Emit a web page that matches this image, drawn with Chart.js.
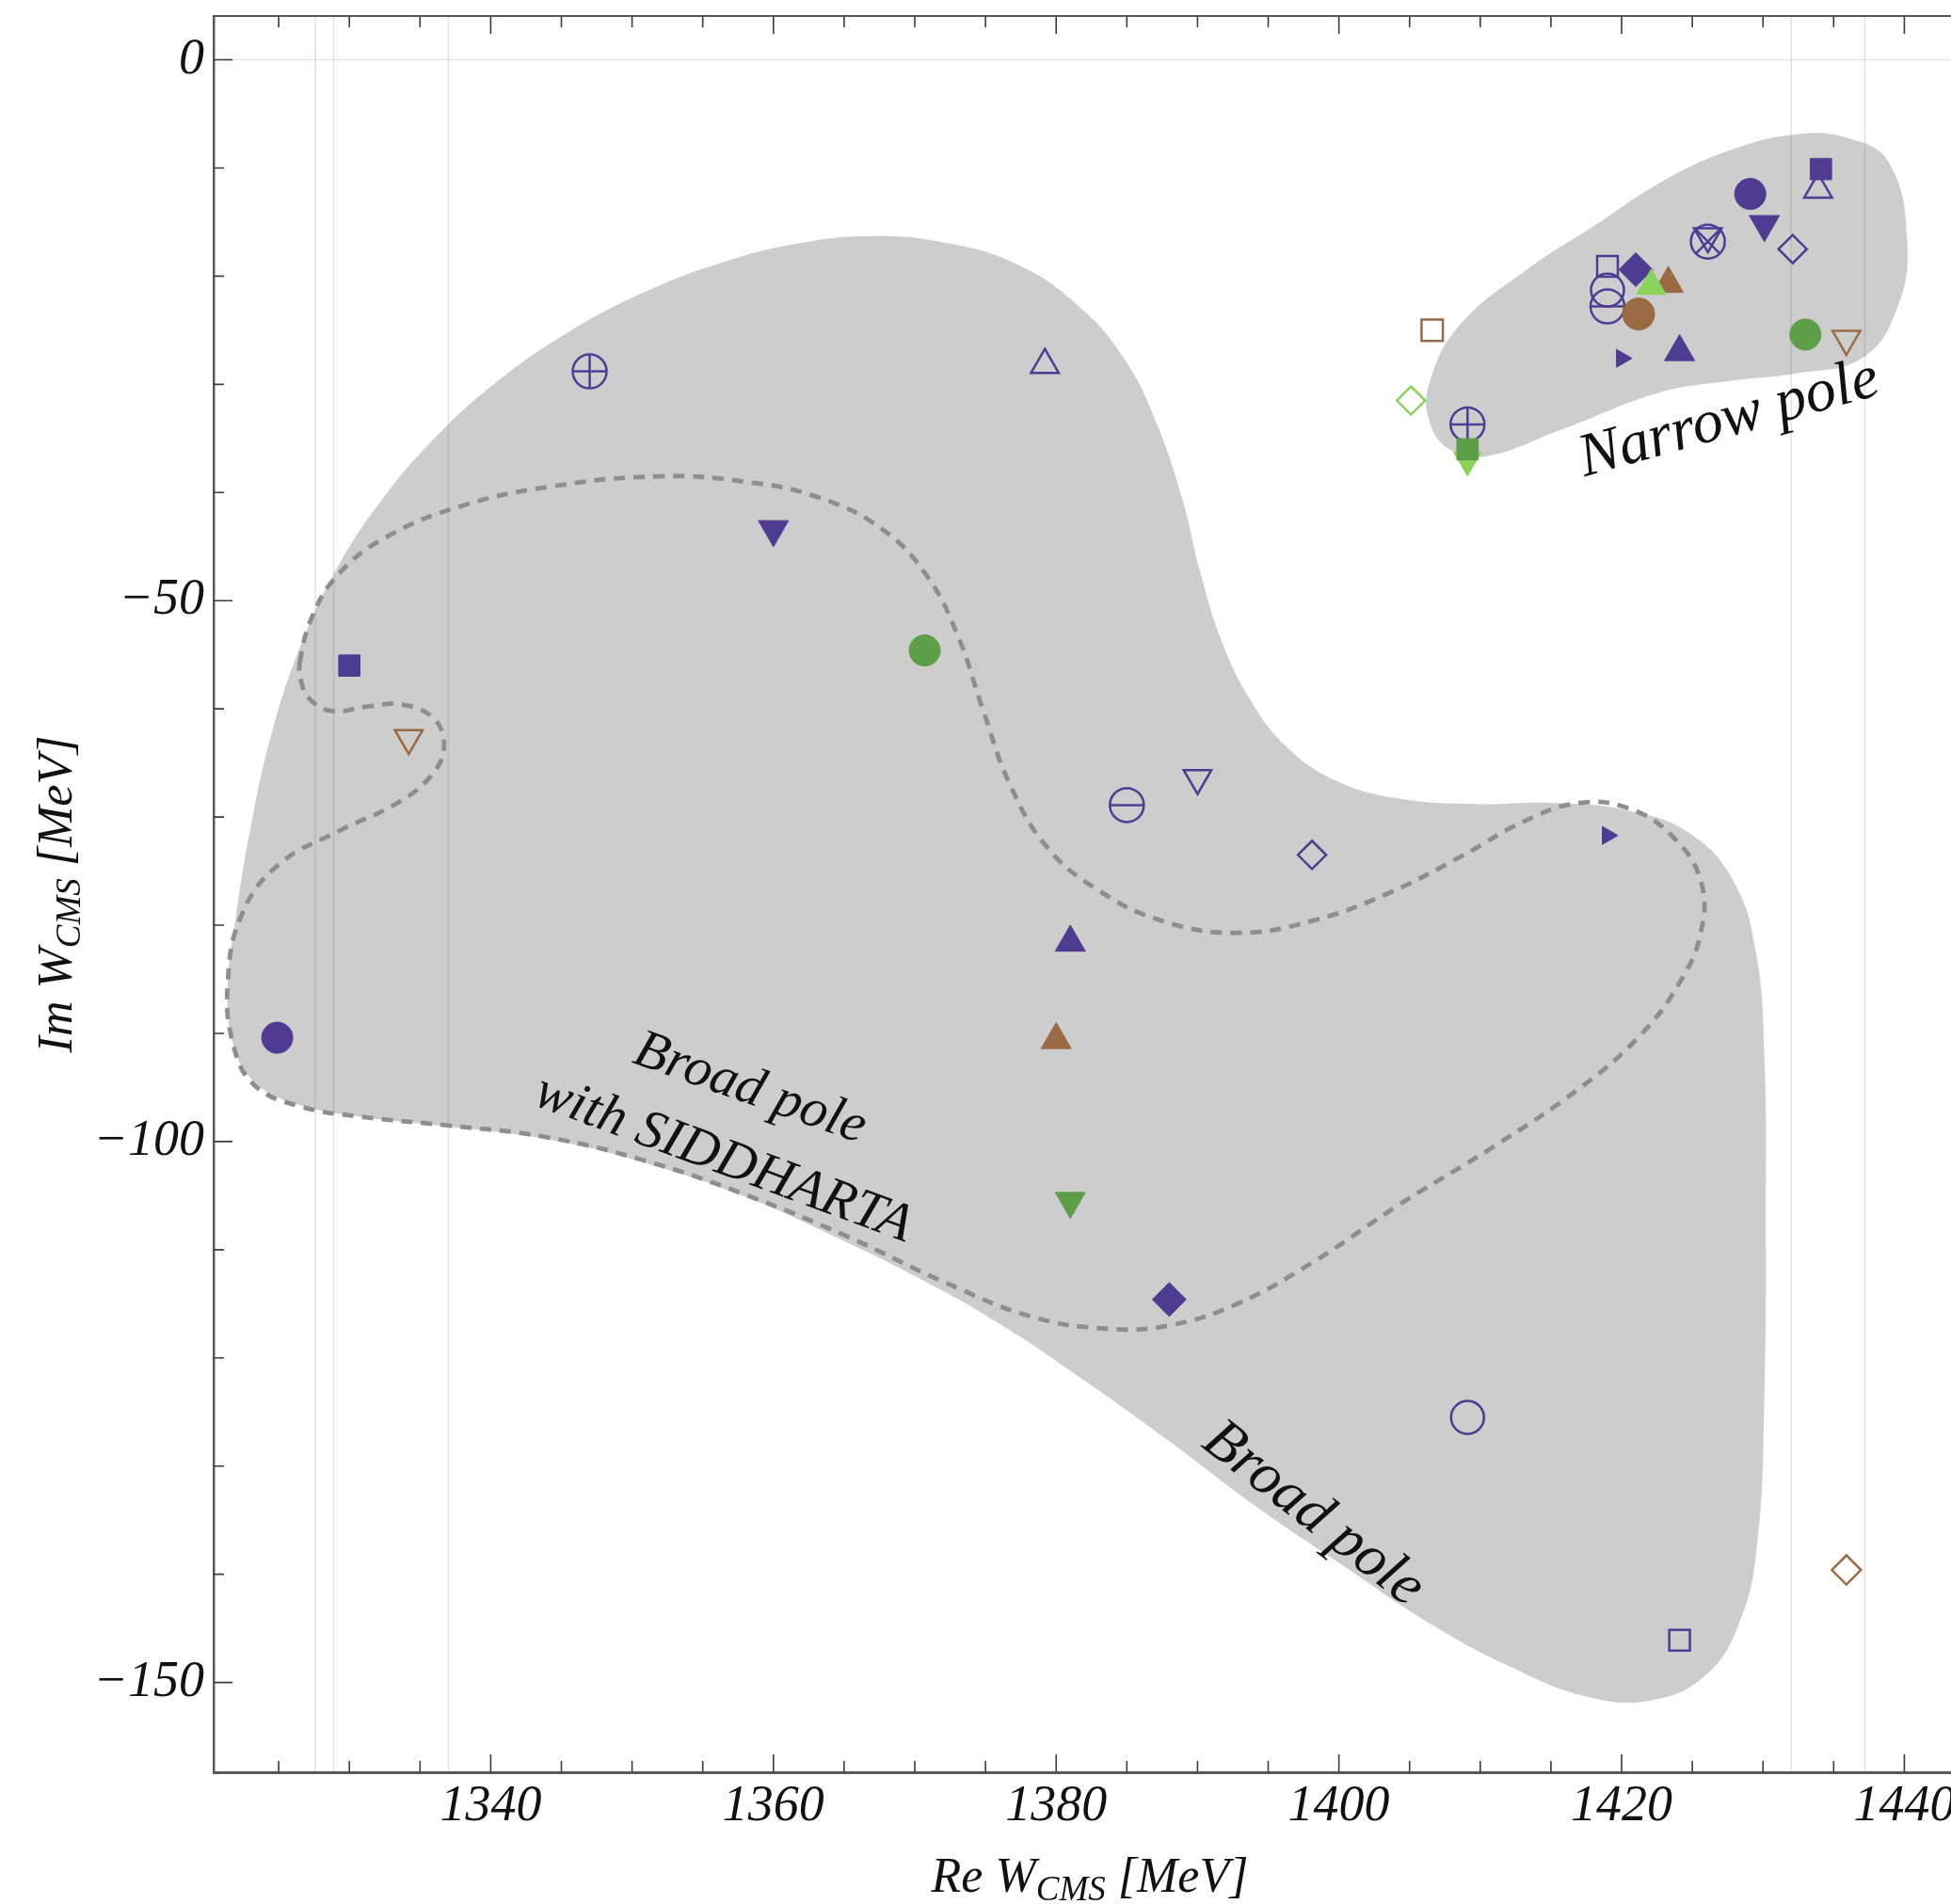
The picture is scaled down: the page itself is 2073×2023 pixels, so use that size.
<!DOCTYPE html>
<html><head><meta charset="utf-8">
<script src="https://cdn.jsdelivr.net/npm/chart.js@4.4.1/dist/chart.umd.min.js"></script>
<style>html,body{margin:0;padding:0;background:#fff;}canvas{display:block;}</style>
</head><body>
<canvas id="c" width="2073" height="2023"></canvas>
<script>
// ---------- axis limits & ticks ----------
const xLimits = [1320.4, 1443.3];
const yLimits = [-158.3, 4.05];
const xTickValues = [1325,1330,1335,1340,1345,1350,1355,1360,1365,1370,1375,1380,1385,1390,1395,1400,1405,1410,1415,1420,1425,1430,1435,1440];
const xMajorTicks = [1340,1360,1380,1400,1420,1440];
const yTickValues = [-150,-140,-130,-120,-110,-100,-90,-80,-70,-60,-50,-40,-30,-20,-10,0];
const yMajorTicks = [0,-50,-100,-150];
const thresholds = [1327.6, 1328.9, 1337.0, 1432.0, 1437.2];

// ---------- pole positions [Re W, Im W] (MeV) ----------
const purpleDisc        = [[1324.9,-90.4],[1429.1,-12.4]];
const purpleSquare      = [[1330.0,-56.0],[1434.1,-10.1]];
const purpleTriDown     = [[1360.0,-43.4],[1430.1,-15.2]];
const purpleTriUp       = [[1381.0,-81.6],[1424.1,-27.0]];
const purpleDiamond     = [[1388.0,-114.6],[1421.0,-19.4]];
const purpleOpenTriUp   = [[1379.2,-28.2],[1433.9,-12.0]];
const purpleOpenTriDown = [[1390.0,-66.4],[1426.1,-16.3]];
const purpleOpenDiamond = [[1398.1,-73.5],[1432.1,-17.5]];
const purpleSmallTri    = [[1419.0,-71.7],[1420.0,-27.6]];
const purpleCirclePlus  = [[1347.0,-28.8],[1409.1,-33.7]];
const purpleCircleBar   = [[1385.0,-68.9],[1419.0,-22.8]];
const purpleOpenCircle  = [[1409.1,-125.5],[1419.0,-21.3]];
const purpleOpenSquare  = [[1424.1,-146.1],[1419.0,-19.1]];
const purpleCircleCross = [[1426.1,-16.8]];
const greenDisc         = [[1370.7,-54.6],[1433.0,-25.4]];
const greenTriDown      = [[1381.0,-105.5]];
const greenSquare       = [[1409.1,-36.0]];
const lightGreenTriUp   = [[1422.1,-20.9]];
const lightGreenTriDown = [[1409.1,-37.0]];
const lightGreenDiamond = [[1405.1,-31.5]];
const brownTriUp        = [[1380.0,-90.6],[1423.3,-20.7]];
const brownOpenTriDown  = [[1334.2,-62.7],[1435.9,-25.8]];
const brownOpenDiamond  = [[1435.9,-139.6]];
const brownOpenSquare   = [[1406.6,-25.0]];
const brownDisc         = [[1421.2,-23.5]];

// ---------- region outlines [Re W, Im W] ----------
const broadPoleOutline = [[1366.8,-16.3],[1372.1,-16.9],[1377.4,-19.0],[1381.8,-23.0],[1384.9,-27.8],[1387.1,-33.6],[1388.9,-40.5],[1390.2,-47.4],[1391.7,-53.7],[1393.7,-59.1],[1396.3,-63.5],[1399.9,-66.7],[1404.3,-68.3],[1409.5,-68.8],[1415.3,-68.7],[1420.5,-69.4],[1424.8,-71.5],[1427.9,-75.9],[1429.5,-82.5],[1430.1,-92.2],[1430.2,-107.2],[1430.1,-123.3],[1429.6,-137.1],[1428.3,-144.6],[1425.8,-149.5],[1421.9,-151.7],[1417.5,-151.3],[1412.2,-148.6],[1406.5,-144.6],[1400.3,-139.2],[1394.1,-133.7],[1388.0,-127.7],[1381.8,-121.9],[1375.7,-116.6],[1370.4,-112.7],[1364.2,-108.7],[1358.0,-105.1],[1351.0,-102.0],[1344.0,-99.8],[1336.9,-98.6],[1330.8,-97.7],[1326.2,-96.5],[1323.3,-94.5],[1321.8,-91.1],[1321.4,-85.9],[1322.0,-79.0],[1323.1,-70.4],[1324.6,-61.8],[1326.6,-54.0],[1329.0,-47.3],[1332.0,-41.2],[1335.8,-35.3],[1340.4,-29.8],[1345.7,-25.0],[1351.0,-21.4],[1356.2,-18.8],[1361.6,-17.0]];
const siddhartaOutline = [[1326.5,-55.7],[1327.4,-51.4],[1329.2,-47.6],[1332.5,-44.2],[1337.8,-41.3],[1344.0,-39.5],[1351.9,-38.5],[1358.0,-39.0],[1363.3,-40.5],[1367.7,-43.4],[1370.8,-47.6],[1373.0,-53.1],[1374.8,-60.0],[1376.7,-66.9],[1379.3,-72.7],[1382.9,-76.7],[1387.5,-79.6],[1392.8,-80.7],[1398.1,-79.6],[1403.4,-77.1],[1408.7,-73.6],[1413.1,-70.4],[1417.0,-68.7],[1420.5,-69.2],[1423.6,-71.8],[1425.6,-75.9],[1425.6,-80.7],[1424.1,-85.3],[1421.3,-90.2],[1417.0,-95.1],[1410.9,-100.5],[1404.3,-105.8],[1398.1,-111.2],[1392.8,-115.0],[1388.0,-117.0],[1383.6,-117.3],[1378.3,-116.2],[1372.1,-113.0],[1365.1,-108.7],[1358.0,-104.9],[1351.0,-101.8],[1344.0,-99.6],[1336.9,-98.5],[1330.8,-97.7],[1326.4,-96.7],[1323.3,-94.8],[1321.8,-91.1],[1321.4,-85.3],[1322.4,-79.0],[1325.0,-74.4],[1329.4,-71.2],[1333.4,-68.7],[1335.9,-66.0],[1336.7,-63.3],[1335.9,-60.8],[1333.7,-59.6],[1331.2,-59.8],[1328.8,-60.2],[1327.2,-59.1],[1326.6,-57.5]];
const narrowPoleOutline = [[1410.2,-36.7],[1415.7,-34.2],[1422.8,-30.7],[1427.6,-29.7],[1432.3,-29.0],[1437.1,-27.5],[1439.5,-22.9],[1440.2,-16.8],[1438.9,-9.5],[1435.9,-7.2],[1432.3,-6.9],[1427.6,-8.4],[1422.8,-11.3],[1418.0,-15.4],[1413.3,-19.4],[1408.5,-24.6],[1406.4,-29.9],[1406.4,-33.4],[1407.8,-36.0]];

// ---------- text labels ----------
const noteTexts  = ['Narrow pole','Broad pole','with SIDDHARTA','Broad pole'];
const noteRe     = [1427.9, 1358.0, 1356.1, 1397.5];
const noteIm     = [-34.7, -96.4, -102.9, -135.6];
const noteAngles = [-15.5, 19.5, 20.3, 38];
const noteSizes  = [65, 58, 58, 63];
const xTitleParts = ['Re W','CMS',' [MeV]'];
const yTitleParts = ['Im W','CMS',' [MeV]'];

// ---------- styling ----------
const PURPLE='#4F3C92', GREEN='#5E9E48', LGREEN='#8AD35B', BROWN='#9A6A42';
const SERIF='"Liberation Serif","Times New Roman",serif';
const toPts = a => a.map(([x,y]) => ({x, y}));

function markerDs(arr, style, color, filled, r, rot, order){
  return { data: toPts(arr), showLine:false, pointStyle:style, pointRadius:r, pointHoverRadius:r,
    pointRotation:rot||0, pointBackgroundColor: filled ? color : 'rgba(0,0,0,0)',
    pointBorderColor:color, pointBorderWidth: filled ? 1 : 2.5, order:order };
}
function outlineDs(arr, opts){
  return Object.assign({ data: toPts(arr), showLine:true, closed:true, tension:0.42,
    pointRadius:0, pointHoverRadius:0, pointHitRadius:0 }, opts);
}

const datasets = [
  outlineDs(broadPoleOutline, {fill:'shape', backgroundColor:'#CDCDCD', borderWidth:0, borderColor:'rgba(0,0,0,0)', order:100}),
  outlineDs(narrowPoleOutline, {fill:'shape', backgroundColor:'#CDCDCD', borderWidth:0, borderColor:'rgba(0,0,0,0)', order:99}),
  ...thresholds.map(t => ({ data:[{x:t,y:yLimits[1]+5},{x:t,y:yLimits[0]-5}], showLine:true, fill:false,
      borderColor:'rgba(120,100,130,0.2)', borderWidth:1.5, pointRadius:0, order:90 })),
  { data:[{x:xLimits[0]-5,y:0},{x:xLimits[1]+5,y:0}], showLine:true, fill:false,
      borderColor:'rgba(120,100,130,0.2)', borderWidth:1.5, pointRadius:0, order:90 },
  outlineDs(siddhartaOutline, {fill:false, borderColor:'#8E8E8E', borderWidth:4.8, borderDash:[12,9], order:80}),

  markerDs(purpleOpenSquare, 'rect', PURPLE, false, 15.5, 0, 30),
  markerDs(purpleOpenCircle, 'circle', PURPLE, false, 17.5, 0, 30),
  markerDs(purpleCircleBar, 'circle', PURPLE, false, 18, 0, 30),
  markerDs(purpleCircleBar, 'line', PURPLE, false, 18, 0, 30),
  markerDs(purpleCirclePlus, 'circle', PURPLE, false, 18, 0, 30),
  markerDs(purpleCirclePlus, 'cross', PURPLE, false, 18, 0, 30),
  markerDs(purpleCircleCross, 'circle', PURPLE, false, 18, 0, 30),
  markerDs(purpleCircleCross, 'crossRot', PURPLE, false, 18, 0, 30),
  markerDs(purpleOpenTriDown, 'triangle', PURPLE, false, 17, 180, 30),
  markerDs(purpleOpenTriUp, 'triangle', PURPLE, false, 17, 0, 30),
  markerDs(purpleOpenDiamond, 'rectRot', PURPLE, false, 15, 0, 30),
  markerDs(purpleDiamond, 'rectRot', PURPLE, true, 18, 0, 25),
  markerDs(purpleDisc, 'circle', PURPLE, true, 16.5, 0, 25),
  markerDs(purpleSquare, 'rect', PURPLE, true, 16, 0, 25),
  markerDs(purpleTriDown, 'triangle', PURPLE, true, 18.5, 180, 25),
  markerDs(purpleTriUp, 'triangle', PURPLE, true, 18.5, 0, 25),
  markerDs(purpleSmallTri, 'triangle', PURPLE, true, 11, 90, 25),
  markerDs(greenDisc, 'circle', GREEN, true, 16.5, 0, 20),
  markerDs(greenTriDown, 'triangle', GREEN, true, 18.5, 180, 20),
  markerDs(lightGreenTriDown, 'triangle', LGREEN, true, 17, 180, 21),
  markerDs(greenSquare, 'rect', GREEN, true, 16, 0, 20),
  markerDs(lightGreenDiamond, 'rectRot', LGREEN, false, 15, 0, 20),
  markerDs(brownOpenSquare, 'rect', BROWN, false, 16, 0, 20),
  markerDs(brownOpenTriDown, 'triangle', BROWN, false, 17, 180, 20),
  markerDs(brownOpenDiamond, 'rectRot', BROWN, false, 15.5, 0, 20),
  markerDs(brownTriUp, 'triangle', BROWN, true, 18.5, 0, 20),
  markerDs(lightGreenTriUp, 'triangle', LGREEN, true, 18, 0, 19),
  markerDs(brownDisc, 'circle', BROWN, true, 17, 0, 18)
];

// close the outline curves smoothly (same mechanism the radar controller uses)
const closeLoops = {
  id:'closeLoops',
  afterDatasetsUpdate(chart){
    chart.data.datasets.forEach((ds, i) => {
      if (!ds.closed) return;
      const line = chart.getDatasetMeta(i).dataset;
      if (!line) return;
      line._loop = true; line._fullLoop = true;
      delete line._segments; line._path = undefined; line._pointsUpdated = false;
    });
  }
};

const frameTicks = {
  id:'frameTicks',
  afterDatasetsDraw(chart){
    const {ctx, chartArea:a, scales:{x, y}} = chart;
    ctx.save();
    ctx.strokeStyle = '#3c3c3c'; ctx.lineWidth = 1.6;
    ctx.beginPath();
    x.ticks.forEach(t => {
      const v = t.value; if (v < x.min || v > x.max) return;
      const px = x.getPixelForValue(v);
      const L = xMajorTicks.includes(v) ? 19 : 12;
      ctx.moveTo(px, a.bottom); ctx.lineTo(px, a.bottom - L);
      ctx.moveTo(px, a.top); ctx.lineTo(px, a.top + L);
    });
    y.ticks.forEach(t => {
      const v = t.value; if (v < y.min || v > y.max) return;
      const py = y.getPixelForValue(v);
      const L = yMajorTicks.includes(v) ? 20 : 11;
      ctx.moveTo(a.left, py); ctx.lineTo(a.left + L, py);
    });
    ctx.stroke();
    ctx.strokeStyle = '#555'; ctx.lineWidth = 2;
    ctx.beginPath(); ctx.moveTo(a.left, a.top); ctx.lineTo(a.right, a.top); ctx.stroke();
    ctx.restore();
  }
};

const notes = {
  id:'notes',
  afterDatasetsDraw(chart){
    const {ctx, scales:{x, y}} = chart;
    noteTexts.forEach((txt, i) => {
      ctx.save();
      ctx.translate(x.getPixelForValue(noteRe[i]), y.getPixelForValue(noteIm[i]));
      ctx.rotate(noteAngles[i] * Math.PI / 180);
      ctx.font = 'italic ' + noteSizes[i] + 'px ' + SERIF;
      ctx.fillStyle = '#111'; ctx.textAlign = 'center'; ctx.textBaseline = 'alphabetic';
      ctx.fillText(txt, 0, 0);
      ctx.restore();
    });
  }
};

function drawTitle(ctx, parts, cx, cy, angle){
  const sizes = [52, 37, 52], dys = [0, 9, 0];
  ctx.save();
  ctx.translate(cx, cy); ctx.rotate(angle);
  ctx.fillStyle = '#111'; ctx.textBaseline = 'alphabetic'; ctx.textAlign = 'left';
  const widths = parts.map((p, i) => { ctx.font = 'italic ' + sizes[i] + 'px ' + SERIF; return ctx.measureText(p).width; });
  const total = widths.reduce((s, w) => s + w, 0);
  let px = -total / 2;
  parts.forEach((p, i) => { ctx.font = 'italic ' + sizes[i] + 'px ' + SERIF; ctx.fillText(p, px, dys[i]); px += widths[i]; });
  ctx.restore();
}
const titles = {
  id:'titles',
  afterDraw(chart){
    const {ctx, chartArea:a} = chart;
    drawTitle(ctx, xTitleParts, (a.left + a.right) / 2 + 8, chart.height - 13, 0);
    drawTitle(ctx, yTitleParts, 76, (a.top + a.bottom) / 2, -Math.PI / 2);
  }
};

const fmt = v => v < 0 ? '\u2212' + Math.abs(v) : String(v);
const noScalePadding = s => { s.paddingTop = 0; s.paddingBottom = 0; s.paddingLeft = 0; s.paddingRight = 0; };

new Chart(document.getElementById('c'), {
  type:'line',
  data:{ datasets },
  options:{
    responsive:false, devicePixelRatio:1, animation:false,
    layout:{ autoPadding:false, padding:{top:17, right:0, bottom:0, left:0} },
    plugins:{ legend:{display:false}, tooltip:{enabled:false}, filler:{propagate:false} },
    scales:{
      x:{ type:'linear', position:'bottom', min:xLimits[0], max:xLimits[1], bounds:'data',
        afterBuildTicks: s => { s.ticks = xTickValues.map(v => ({value:v})); },
        afterFit: s => { s.height = 140; noScalePadding(s); },
        grid:{ display:false, drawTicks:false },
        border:{ display:true, color:'#5a5a5a', width:3 },
        ticks:{ autoSkip:false, maxRotation:0, minRotation:0, padding:4, color:'#111',
          font:{ family:SERIF, style:'italic', size:54 },
          callback: v => xMajorTicks.includes(v) ? String(v) : '' } },
      y:{ type:'linear', position:'left', min:yLimits[0], max:yLimits[1], bounds:'data',
        afterBuildTicks: s => { s.ticks = yTickValues.map(v => ({value:v})); },
        afterFit: s => { s.width = 227; noScalePadding(s); },
        grid:{ display:false, drawTicks:false },
        border:{ display:true, color:'#5a5a5a', width:2.5 },
        ticks:{ autoSkip:false, padding:10, color:'#111',
          font:{ family:SERIF, style:'italic', size:54 },
          callback: v => yMajorTicks.includes(v) ? fmt(v) : '' } }
    }
  },
  plugins:[closeLoops, frameTicks, notes, titles]
});
</script>
</body></html>
